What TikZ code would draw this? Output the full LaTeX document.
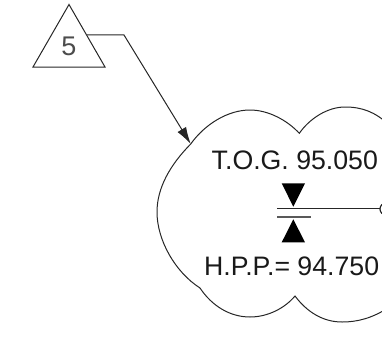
\documentclass[tikz,border=0pt]{standalone}
\usepackage{fontspec}
\setmainfont{Liberation Sans}
\usetikzlibrary{arrows.meta}
\tikzset{
  thinline/.style={draw=black!85,line width=1pt,line join=miter},
  graytext/.style={inner sep=0pt,anchor=base,text=black!70,font=\fontsize{27}{27}\selectfont},
  labeltext/.style={inner sep=0pt,anchor=base west,text=black!90,font=\fontsize{26.7}{27}\selectfont},
  solidtri/.style={fill=black,draw=none},
  arrowline/.style={thinline,-{Latex[length=17pt,width=10pt]}}
}
\begin{document}
\begin{tikzpicture}[x=1pt,y=-1pt]
\useasboundingbox (0,0) rectangle (382,337);
\clip (0,0) rectangle (382,337);
% triangle tag
\coordinate (apex) at (69,4.5);
\coordinate (bl) at (33,67);
\coordinate (br) at (105,67);
\draw[thinline] (apex) -- (bl) -- (br) -- cycle;
\node[graytext] (five) at (69,55.5) {5};
% cloud
\coordinate (cusp1) at (190.7,144);
\coordinate (cusp2) at (299.3,133.3);
\coordinate (cusp3) at (295,296);
\coordinate (kink) at (200,288);
\draw[thinline]
  (cusp1) .. controls (205,124) and (228,110) .. (250,110)
  .. controls (268,110) and (287,120) .. (cusp2)
  .. controls (310,118) and (328,107) .. (345,107)
  .. controls (362,107) and (375,112) .. (388,124);
\draw[thinline]
  (cusp1) .. controls (170,165) and (157,188) .. (157,212)
  .. controls (157,240) and (175,272) .. (kink)
  .. controls (212,306) and (230,317) .. (250,317)
  .. controls (268,317) and (285,308) .. (cusp3)
  .. controls (307,312) and (323,322) .. (342,322)
  .. controls (358,322) and (372,318) .. (388,308);
% leader
\coordinate (start) at (87,35);
\coordinate (bend) at (124,35);
\draw[arrowline] (start) -- (bend) -- (cusp1);
% labels
\node[labeltext] (tog) at (211.5,169) {T.O.G. 95.050};
\node[labeltext] (hpp) at (204,275.7) {H.P.P.= 94.750};
% level symbol
\coordinate (la) at (277.3,208.7);
\coordinate (lb) at (380,208.7);
\coordinate (ma) at (277.3,217);
\coordinate (mb) at (311,217);
\coordinate (dot) at (386,209);
\fill[solidtri] (281.7,183.3) -- (305,183.3) -- (293.3,206.7) -- cycle;
\fill[solidtri] (281.7,242.3) -- (305,242.3) -- (293.3,219.3) -- cycle;
\draw[thinline] (la) -- (lb);
\draw[thinline,draw=black!65,line width=1.2pt] (ma) -- (mb);
\draw[thinline,line width=1.2pt] (dot) circle[radius=6];
\end{tikzpicture}
\end{document}
